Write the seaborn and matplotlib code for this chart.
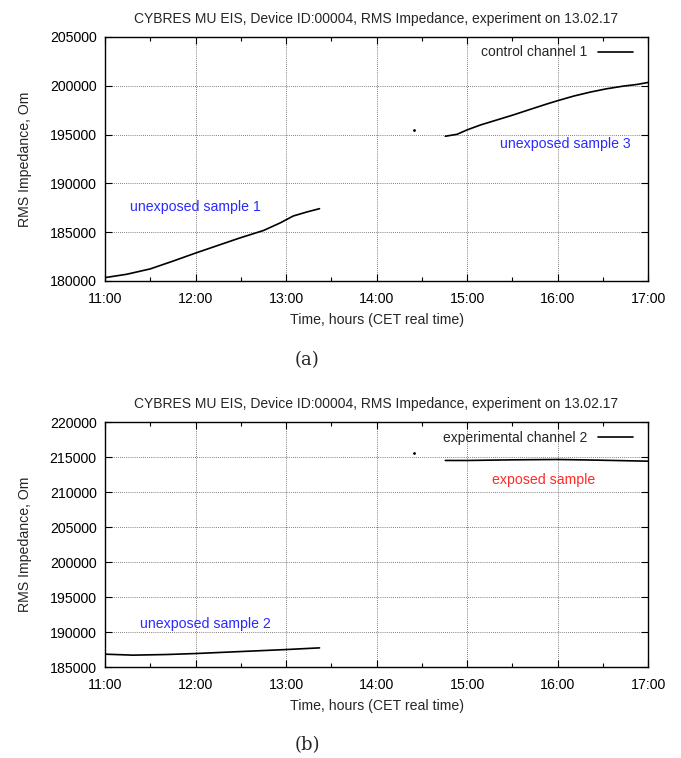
import matplotlib
matplotlib.use("Agg")
import matplotlib.pyplot as plt
import seaborn as sns
import pandas as pd
from matplotlib.ticker import MultipleLocator

sns.set_theme(style="ticks")
plt.rcParams['font.family'] = ['Liberation Sans', 'DejaVu Sans']

TITLE = "CYBRES MU EIS, Device ID:00004, RMS Impedance, experiment on 13.02.17"
XLABEL = "Time, hours (CET real time)"
YLABEL = "RMS Impedance, Om"
x_ticks = [11, 12, 13, 14, 15, 16, 17]
x_tick_labels = ["11:00", "12:00", "13:00", "14:00", "15:00", "16:00", "17:00"]

# --- Panel (a): control channel 1 ---
a_seg1_t = [11.0, 11.24, 11.5, 11.74, 12.0, 12.24, 12.49, 12.75, 12.94, 13.08, 13.23, 13.37]
a_seg1_v = [180345, 180690, 181240, 182000, 182860, 183620, 184410, 185170, 185970, 186660, 187070, 187410]
a_dot_t = [14.41]
a_dot_v = [195490]
a_seg2_t = [14.76, 14.89, 15.0, 15.15, 15.33, 15.51, 15.70, 15.88, 16.0, 16.18, 16.36, 16.54, 16.73, 16.88, 17.0]
a_seg2_v = [194830, 195030, 195480, 195990, 196500, 197010, 197590, 198130, 198470, 198950, 199350, 199690, 199970, 200140, 200340]
a_yticks = [180000, 185000, 190000, 195000, 200000, 205000]

# --- Panel (b): experimental channel 2 ---
b_seg1_t = [11.0, 11.31, 11.68, 12.0, 12.42, 13.0, 13.37]
b_seg1_v = [186840, 186700, 186790, 186930, 187170, 187500, 187740]
b_dot_t = [14.41]
b_dot_v = [215600]
b_seg2_t = [14.76, 15.0, 15.51, 16.0, 16.43, 17.0]
b_seg2_v = [214530, 214530, 214620, 214670, 214580, 214430]
b_yticks = [185000, 190000, 195000, 200000, 205000, 210000, 215000, 220000]

fig = plt.figure(figsize=(6.81, 7.58), dpi=100)
ax_a = fig.add_axes([0.1542, 0.6293, 0.7974, 0.3219])
ax_b = fig.add_axes([0.1542, 0.1200, 0.7974, 0.3230])


def panel(ax, s1t, s1v, dt, dv, s2t, s2v, yticks, label, notes):
    d1 = pd.DataFrame({"t": s1t, "v": s1v})
    d2 = pd.DataFrame({"t": s2t, "v": s2v})
    sns.lineplot(data=d1, x="t", y="v", ax=ax, color="black", lw=1.2, label=label)
    sns.lineplot(data=d2, x="t", y="v", ax=ax, color="black", lw=1.2, label="_nolegend_")
    ax.plot(dt, dv, ls="none", marker="o", ms=1.0, color="black")
    ax.set_xlim(11, 17)
    ax.set_ylim(yticks[0], yticks[-1])
    ax.set_xticks(x_ticks)
    ax.set_xticklabels(x_tick_labels)
    ax.xaxis.set_minor_locator(MultipleLocator(0.5))
    ax.set_yticks(yticks)
    ax.set_yticklabels([str(v) for v in yticks])
    ax.tick_params(axis="both", which="both", direction="in", top=True, right=True,
                   labelsize=10.2, colors="black")
    ax.tick_params(axis="x", which="major", pad=8)
    ax.tick_params(axis="y", which="major", pad=6)
    ax.tick_params(which="major", length=5, width=0.8)
    ax.tick_params(which="minor", length=3, width=0.8)
    ax.grid(True, which="major", ls=(0, (1, 1.5)), color="#555555", lw=0.6)
    for sp in ax.spines.values():
        sp.set_color("black")
        sp.set_linewidth(1.0)
    ax.set_xlabel(XLABEL, fontsize=10.2, labelpad=5)
    ax.set_ylabel(YLABEL, fontsize=10.2, labelpad=13)
    ax.set_title(TITLE, fontsize=10, pad=10)
    ax.legend(loc="upper right", bbox_to_anchor=(0.99, 1.005), frameon=False,
              markerfirst=False, fontsize=10, handlelength=2.5, borderaxespad=0.3)
    for (x, y, txt, col) in notes:
        ax.text(x, y, txt, color=col, fontsize=10.2, ha="center", va="center")


panel(ax_a, a_seg1_t, a_seg1_v, a_dot_t, a_dot_v, a_seg2_t, a_seg2_v, a_yticks,
      "control channel 1",
      [(12.0, 187560, "unexposed sample 1", "#2b2bff"),
       (16.09, 194010, "unexposed sample 3", "#2b2bff")])
panel(ax_b, b_seg1_t, b_seg1_v, b_dot_t, b_dot_v, b_seg2_t, b_seg2_v, b_yticks,
      "experimental channel 2",
      [(12.11, 191200, "unexposed sample 2", "#2b2bff"),
       (15.85, 211780, "exposed sample", "#ff2b2b")])

fig.text(0.4515, 1 - 360 / 758, "(a)", family="DejaVu Serif", fontsize=13, ha="center", va="center")
fig.text(0.4515, 1 - 745 / 758, "(b)", family="DejaVu Serif", fontsize=13, ha="center", va="center")

fig.savefig("out.png", dpi=100)
